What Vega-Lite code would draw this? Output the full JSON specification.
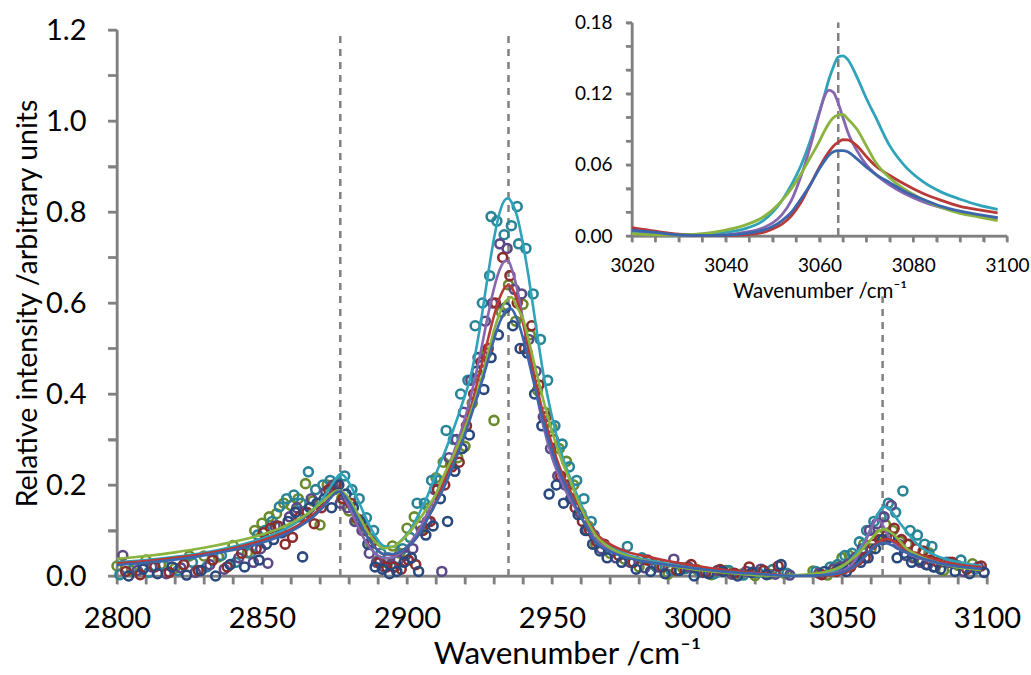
{
"$schema": "https://vega.github.io/schema/vega-lite/v6.json",
"width": 870, "height": 546,
"autosize": {"type": "none"},
"padding": {"left": 117, "top": 30, "right": 44, "bottom": 99},
"background": "white",
"config": {"font": "Lato", "view": {"stroke": null},
  "axis": {"grid": false, "domainColor": "#808080", "domainWidth": 2, "tickColor": "#808080", "tickWidth": 2, "labelColor": "#000000", "titleColor": "#000000", "titleFontWeight": "normal", "labelOverlap": false, "labelFlush": false}},
"datasets": {
"vlines": [{"x":2877,"y":0,"y2":1.2},{"x":2935,"y":0,"y2":1.2},{"x":3064,"y":0,"y2":0.615}],
"ivline": [{"x":3064,"y":0,"y2":0.18}],
"mainframe": [{"x":2800,"x2":3100,"y":0,"y2":0},{"x":2800,"x2":2800,"y":0,"y2":1.2}],
"insetframe": [{"x":3020,"x2":3100,"y":0,"y2":0},{"x":3020,"x2":3020,"y":0,"y2":0.18}],
"xt": [{"v":2800},{"v":2810},{"v":2820},{"v":2830},{"v":2840},{"v":2850},{"v":2860},{"v":2870},{"v":2880},{"v":2890},{"v":2900},{"v":2910},{"v":2920},{"v":2930},{"v":2940},{"v":2950},{"v":2960},{"v":2970},{"v":2980},{"v":2990},{"v":3000},{"v":3010},{"v":3020},{"v":3030},{"v":3040},{"v":3050},{"v":3060},{"v":3070},{"v":3080},{"v":3090},{"v":3100}],
"yt": [{"v":0},{"v":0.1},{"v":0.2},{"v":0.3},{"v":0.4},{"v":0.5},{"v":0.6},{"v":0.7},{"v":0.8},{"v":0.9},{"v":1.0},{"v":1.1},{"v":1.2}],
"ixt": [{"v":3020},{"v":3025},{"v":3030},{"v":3035},{"v":3040},{"v":3045},{"v":3050},{"v":3055},{"v":3060},{"v":3065},{"v":3070},{"v":3075},{"v":3080},{"v":3085},{"v":3090},{"v":3095},{"v":3100}],
"iyt": [{"v":0},{"v":0.02},{"v":0.04},{"v":0.06},{"v":0.08},{"v":0.1},{"v":0.12},{"v":0.14},{"v":0.16},{"v":0.18}],
"fits": [
{"s":"T","x":2800,"y":0.030},{"s":"T","x":2810,"y":0.035},{"s":"T","x":2820,"y":0.042},{"s":"T","x":2830,"y":0.051},{"s":"T","x":2840,"y":0.064},{"s":"T","x":2850,"y":0.082},{"s":"T","x":2855,"y":0.094},{"s":"T","x":2860,"y":0.110},{"s":"T","x":2865,"y":0.132},{"s":"T","x":2868,"y":0.149},{"s":"T","x":2871,"y":0.170},{"s":"T","x":2874,"y":0.200},{"s":"T","x":2876,"y":0.218},{"s":"T","x":2877,"y":0.224},{"s":"T","x":2878,"y":0.222},{"s":"T","x":2880,"y":0.205},{"s":"T","x":2883,"y":0.168},{"s":"T","x":2886,"y":0.125},{"s":"T","x":2889,"y":0.088},{"s":"T","x":2892,"y":0.066},{"s":"T","x":2895,"y":0.064},{"s":"T","x":2898,"y":0.078},{"s":"T","x":2901,"y":0.100},{"s":"T","x":2904,"y":0.135},{"s":"T","x":2907,"y":0.175},{"s":"T","x":2910,"y":0.225},{"s":"T","x":2913,"y":0.272},{"s":"T","x":2916,"y":0.322},{"s":"T","x":2919,"y":0.378},{"s":"T","x":2922,"y":0.440},{"s":"T","x":2925,"y":0.540},{"s":"T","x":2928,"y":0.665},{"s":"T","x":2930,"y":0.742},{"s":"T","x":2932,"y":0.800},{"s":"T","x":2934,"y":0.828},{"s":"T","x":2935,"y":0.830},{"s":"T","x":2936,"y":0.822},{"s":"T","x":2938,"y":0.790},{"s":"T","x":2940,"y":0.730},{"s":"T","x":2942,"y":0.655},{"s":"T","x":2944,"y":0.570},{"s":"T","x":2947,"y":0.445},{"s":"T","x":2950,"y":0.350},{"s":"T","x":2953,"y":0.275},{"s":"T","x":2956,"y":0.220},{"s":"T","x":2960,"y":0.158},{"s":"T","x":2965,"y":0.095},{"s":"T","x":2970,"y":0.066},{"s":"T","x":2976,"y":0.047},{"s":"T","x":2983,"y":0.035},{"s":"T","x":2990,"y":0.027},{"s":"T","x":3000,"y":0.017},{"s":"T","x":3010,"y":0.009},{"s":"T","x":3020,"y":0.004},{"s":"T","x":3025,"y":0.002},{"s":"T","x":3030,"y":0.001},{"s":"T","x":3035,"y":0.001},{"s":"T","x":3040,"y":0.003},{"s":"T","x":3044,"y":0.006},{"s":"T","x":3048,"y":0.013},{"s":"T","x":3050,"y":0.020},{"s":"T","x":3052,"y":0.030},{"s":"T","x":3054,"y":0.043},{"s":"T","x":3056,"y":0.059},{"s":"T","x":3058,"y":0.080},{"s":"T","x":3060,"y":0.105},{"s":"T","x":3061,"y":0.118},{"s":"T","x":3062,"y":0.132},{"s":"T","x":3063,"y":0.143},{"s":"T","x":3064,"y":0.151},{"s":"T","x":3065,"y":0.152},{"s":"T","x":3066,"y":0.149},{"s":"T","x":3068,"y":0.134},{"s":"T","x":3070,"y":0.116},{"s":"T","x":3072,"y":0.100},{"s":"T","x":3075,"y":0.076},{"s":"T","x":3078,"y":0.060},{"s":"T","x":3082,"y":0.046},{"s":"T","x":3086,"y":0.037},{"s":"T","x":3090,"y":0.031},{"s":"T","x":3094,"y":0.026},{"s":"T","x":3098,"y":0.0225},
{"s":"P","x":2800,"y":0.026},{"s":"P","x":2810,"y":0.031},{"s":"P","x":2820,"y":0.038},{"s":"P","x":2830,"y":0.047},{"s":"P","x":2840,"y":0.059},{"s":"P","x":2850,"y":0.076},{"s":"P","x":2855,"y":0.087},{"s":"P","x":2860,"y":0.101},{"s":"P","x":2865,"y":0.120},{"s":"P","x":2868,"y":0.135},{"s":"P","x":2871,"y":0.154},{"s":"P","x":2874,"y":0.177},{"s":"P","x":2876,"y":0.188},{"s":"P","x":2877,"y":0.187},{"s":"P","x":2878,"y":0.178},{"s":"P","x":2880,"y":0.152},{"s":"P","x":2883,"y":0.110},{"s":"P","x":2886,"y":0.073},{"s":"P","x":2889,"y":0.050},{"s":"P","x":2892,"y":0.039},{"s":"P","x":2895,"y":0.041},{"s":"P","x":2898,"y":0.052},{"s":"P","x":2901,"y":0.072},{"s":"P","x":2904,"y":0.100},{"s":"P","x":2907,"y":0.138},{"s":"P","x":2910,"y":0.180},{"s":"P","x":2913,"y":0.222},{"s":"P","x":2916,"y":0.270},{"s":"P","x":2919,"y":0.325},{"s":"P","x":2922,"y":0.395},{"s":"P","x":2925,"y":0.480},{"s":"P","x":2928,"y":0.575},{"s":"P","x":2930,"y":0.632},{"s":"P","x":2932,"y":0.674},{"s":"P","x":2934,"y":0.693},{"s":"P","x":2935,"y":0.692},{"s":"P","x":2936,"y":0.677},{"s":"P","x":2938,"y":0.630},{"s":"P","x":2940,"y":0.564},{"s":"P","x":2942,"y":0.492},{"s":"P","x":2944,"y":0.423},{"s":"P","x":2947,"y":0.330},{"s":"P","x":2950,"y":0.261},{"s":"P","x":2953,"y":0.211},{"s":"P","x":2956,"y":0.171},{"s":"P","x":2960,"y":0.130},{"s":"P","x":2965,"y":0.080},{"s":"P","x":2970,"y":0.057},{"s":"P","x":2976,"y":0.042},{"s":"P","x":2983,"y":0.032},{"s":"P","x":2990,"y":0.024},{"s":"P","x":3000,"y":0.016},{"s":"P","x":3010,"y":0.009},{"s":"P","x":3020,"y":0.005},{"s":"P","x":3025,"y":0.003},{"s":"P","x":3030,"y":0.001},{"s":"P","x":3035,"y":0.0005},{"s":"P","x":3040,"y":0.001},{"s":"P","x":3044,"y":0.003},{"s":"P","x":3048,"y":0.007},{"s":"P","x":3050,"y":0.011},{"s":"P","x":3052,"y":0.018},{"s":"P","x":3054,"y":0.030},{"s":"P","x":3056,"y":0.050},{"s":"P","x":3058,"y":0.075},{"s":"P","x":3060,"y":0.104},{"s":"P","x":3061,"y":0.117},{"s":"P","x":3062,"y":0.123},{"s":"P","x":3063,"y":0.121},{"s":"P","x":3064,"y":0.112},{"s":"P","x":3065,"y":0.100},{"s":"P","x":3066,"y":0.088},{"s":"P","x":3068,"y":0.072},{"s":"P","x":3070,"y":0.060},{"s":"P","x":3072,"y":0.052},{"s":"P","x":3075,"y":0.043},{"s":"P","x":3078,"y":0.036},{"s":"P","x":3082,"y":0.029},{"s":"P","x":3086,"y":0.024},{"s":"P","x":3090,"y":0.020},{"s":"P","x":3094,"y":0.017},{"s":"P","x":3098,"y":0.015},
{"s":"R","x":2800,"y":0.028},{"s":"R","x":2810,"y":0.033},{"s":"R","x":2820,"y":0.040},{"s":"R","x":2830,"y":0.049},{"s":"R","x":2840,"y":0.061},{"s":"R","x":2850,"y":0.078},{"s":"R","x":2855,"y":0.089},{"s":"R","x":2860,"y":0.103},{"s":"R","x":2865,"y":0.122},{"s":"R","x":2868,"y":0.137},{"s":"R","x":2871,"y":0.155},{"s":"R","x":2874,"y":0.176},{"s":"R","x":2876,"y":0.186},{"s":"R","x":2877,"y":0.187},{"s":"R","x":2878,"y":0.182},{"s":"R","x":2880,"y":0.164},{"s":"R","x":2883,"y":0.127},{"s":"R","x":2886,"y":0.090},{"s":"R","x":2889,"y":0.063},{"s":"R","x":2892,"y":0.048},{"s":"R","x":2895,"y":0.047},{"s":"R","x":2898,"y":0.055},{"s":"R","x":2901,"y":0.068},{"s":"R","x":2904,"y":0.090},{"s":"R","x":2907,"y":0.125},{"s":"R","x":2910,"y":0.165},{"s":"R","x":2913,"y":0.210},{"s":"R","x":2916,"y":0.258},{"s":"R","x":2919,"y":0.310},{"s":"R","x":2922,"y":0.370},{"s":"R","x":2925,"y":0.445},{"s":"R","x":2928,"y":0.522},{"s":"R","x":2930,"y":0.572},{"s":"R","x":2932,"y":0.612},{"s":"R","x":2934,"y":0.636},{"s":"R","x":2935,"y":0.639},{"s":"R","x":2936,"y":0.635},{"s":"R","x":2938,"y":0.605},{"s":"R","x":2940,"y":0.556},{"s":"R","x":2942,"y":0.498},{"s":"R","x":2944,"y":0.438},{"s":"R","x":2947,"y":0.356},{"s":"R","x":2950,"y":0.289},{"s":"R","x":2953,"y":0.233},{"s":"R","x":2956,"y":0.190},{"s":"R","x":2960,"y":0.148},{"s":"R","x":2965,"y":0.095},{"s":"R","x":2970,"y":0.070},{"s":"R","x":2976,"y":0.053},{"s":"R","x":2983,"y":0.042},{"s":"R","x":2990,"y":0.033},{"s":"R","x":3000,"y":0.022},{"s":"R","x":3010,"y":0.013},{"s":"R","x":3020,"y":0.007},{"s":"R","x":3025,"y":0.004},{"s":"R","x":3030,"y":0.0015},{"s":"R","x":3035,"y":0.0005},{"s":"R","x":3040,"y":0.0005},{"s":"R","x":3044,"y":0.001},{"s":"R","x":3048,"y":0.003},{"s":"R","x":3050,"y":0.006},{"s":"R","x":3052,"y":0.010},{"s":"R","x":3054,"y":0.017},{"s":"R","x":3056,"y":0.028},{"s":"R","x":3058,"y":0.043},{"s":"R","x":3060,"y":0.058},{"s":"R","x":3061,"y":0.065},{"s":"R","x":3062,"y":0.071},{"s":"R","x":3063,"y":0.076},{"s":"R","x":3064,"y":0.079},{"s":"R","x":3065,"y":0.0812},{"s":"R","x":3066,"y":0.081},{"s":"R","x":3068,"y":0.076},{"s":"R","x":3070,"y":0.067},{"s":"R","x":3072,"y":0.059},{"s":"R","x":3075,"y":0.051},{"s":"R","x":3078,"y":0.044},{"s":"R","x":3082,"y":0.036},{"s":"R","x":3086,"y":0.030},{"s":"R","x":3090,"y":0.025},{"s":"R","x":3094,"y":0.022},{"s":"R","x":3098,"y":0.0195},
{"s":"G","x":2800,"y":0.038},{"s":"G","x":2810,"y":0.044},{"s":"G","x":2820,"y":0.052},{"s":"G","x":2830,"y":0.062},{"s":"G","x":2840,"y":0.075},{"s":"G","x":2850,"y":0.091},{"s":"G","x":2855,"y":0.102},{"s":"G","x":2860,"y":0.116},{"s":"G","x":2865,"y":0.134},{"s":"G","x":2868,"y":0.148},{"s":"G","x":2871,"y":0.164},{"s":"G","x":2874,"y":0.181},{"s":"G","x":2876,"y":0.188},{"s":"G","x":2877,"y":0.188},{"s":"G","x":2878,"y":0.184},{"s":"G","x":2880,"y":0.170},{"s":"G","x":2883,"y":0.137},{"s":"G","x":2886,"y":0.102},{"s":"G","x":2889,"y":0.076},{"s":"G","x":2892,"y":0.061},{"s":"G","x":2895,"y":0.064},{"s":"G","x":2898,"y":0.077},{"s":"G","x":2901,"y":0.097},{"s":"G","x":2904,"y":0.122},{"s":"G","x":2907,"y":0.150},{"s":"G","x":2910,"y":0.180},{"s":"G","x":2913,"y":0.225},{"s":"G","x":2916,"y":0.265},{"s":"G","x":2919,"y":0.310},{"s":"G","x":2922,"y":0.360},{"s":"G","x":2925,"y":0.420},{"s":"G","x":2928,"y":0.490},{"s":"G","x":2930,"y":0.540},{"s":"G","x":2932,"y":0.578},{"s":"G","x":2934,"y":0.604},{"s":"G","x":2935,"y":0.610},{"s":"G","x":2936,"y":0.613},{"s":"G","x":2938,"y":0.590},{"s":"G","x":2940,"y":0.565},{"s":"G","x":2942,"y":0.517},{"s":"G","x":2944,"y":0.464},{"s":"G","x":2947,"y":0.387},{"s":"G","x":2950,"y":0.318},{"s":"G","x":2953,"y":0.260},{"s":"G","x":2956,"y":0.213},{"s":"G","x":2960,"y":0.150},{"s":"G","x":2965,"y":0.090},{"s":"G","x":2970,"y":0.062},{"s":"G","x":2976,"y":0.044},{"s":"G","x":2983,"y":0.032},{"s":"G","x":2990,"y":0.023},{"s":"G","x":3000,"y":0.014},{"s":"G","x":3010,"y":0.007},{"s":"G","x":3020,"y":0.002},{"s":"G","x":3025,"y":0.001},{"s":"G","x":3030,"y":0.001},{"s":"G","x":3035,"y":0.002},{"s":"G","x":3040,"y":0.005},{"s":"G","x":3044,"y":0.009},{"s":"G","x":3048,"y":0.016},{"s":"G","x":3050,"y":0.022},{"s":"G","x":3052,"y":0.030},{"s":"G","x":3054,"y":0.040},{"s":"G","x":3056,"y":0.052},{"s":"G","x":3058,"y":0.066},{"s":"G","x":3060,"y":0.080},{"s":"G","x":3061,"y":0.088},{"s":"G","x":3062,"y":0.095},{"s":"G","x":3063,"y":0.100},{"s":"G","x":3064,"y":0.102},{"s":"G","x":3065,"y":0.1025},{"s":"G","x":3066,"y":0.099},{"s":"G","x":3068,"y":0.090},{"s":"G","x":3070,"y":0.076},{"s":"G","x":3072,"y":0.062},{"s":"G","x":3075,"y":0.049},{"s":"G","x":3078,"y":0.040},{"s":"G","x":3082,"y":0.031},{"s":"G","x":3086,"y":0.024},{"s":"G","x":3090,"y":0.019},{"s":"G","x":3094,"y":0.016},{"s":"G","x":3098,"y":0.013},
{"s":"B","x":2800,"y":0.024},{"s":"B","x":2810,"y":0.029},{"s":"B","x":2820,"y":0.036},{"s":"B","x":2830,"y":0.045},{"s":"B","x":2840,"y":0.057},{"s":"B","x":2850,"y":0.073},{"s":"B","x":2855,"y":0.084},{"s":"B","x":2860,"y":0.098},{"s":"B","x":2865,"y":0.117},{"s":"B","x":2868,"y":0.132},{"s":"B","x":2871,"y":0.151},{"s":"B","x":2874,"y":0.174},{"s":"B","x":2876,"y":0.185},{"s":"B","x":2877,"y":0.186},{"s":"B","x":2878,"y":0.180},{"s":"B","x":2880,"y":0.162},{"s":"B","x":2883,"y":0.126},{"s":"B","x":2886,"y":0.089},{"s":"B","x":2889,"y":0.062},{"s":"B","x":2892,"y":0.048},{"s":"B","x":2895,"y":0.048},{"s":"B","x":2898,"y":0.055},{"s":"B","x":2901,"y":0.068},{"s":"B","x":2904,"y":0.090},{"s":"B","x":2907,"y":0.125},{"s":"B","x":2910,"y":0.160},{"s":"B","x":2913,"y":0.198},{"s":"B","x":2916,"y":0.245},{"s":"B","x":2919,"y":0.293},{"s":"B","x":2922,"y":0.350},{"s":"B","x":2925,"y":0.410},{"s":"B","x":2928,"y":0.475},{"s":"B","x":2930,"y":0.520},{"s":"B","x":2932,"y":0.558},{"s":"B","x":2934,"y":0.582},{"s":"B","x":2935,"y":0.588},{"s":"B","x":2936,"y":0.587},{"s":"B","x":2938,"y":0.564},{"s":"B","x":2940,"y":0.523},{"s":"B","x":2942,"y":0.472},{"s":"B","x":2944,"y":0.417},{"s":"B","x":2947,"y":0.340},{"s":"B","x":2950,"y":0.275},{"s":"B","x":2953,"y":0.223},{"s":"B","x":2956,"y":0.182},{"s":"B","x":2960,"y":0.130},{"s":"B","x":2965,"y":0.075},{"s":"B","x":2970,"y":0.054},{"s":"B","x":2976,"y":0.040},{"s":"B","x":2983,"y":0.031},{"s":"B","x":2990,"y":0.024},{"s":"B","x":3000,"y":0.016},{"s":"B","x":3010,"y":0.009},{"s":"B","x":3020,"y":0.005},{"s":"B","x":3025,"y":0.003},{"s":"B","x":3030,"y":0.001},{"s":"B","x":3035,"y":0.0005},{"s":"B","x":3040,"y":0.0008},{"s":"B","x":3044,"y":0.002},{"s":"B","x":3048,"y":0.005},{"s":"B","x":3050,"y":0.008},{"s":"B","x":3052,"y":0.013},{"s":"B","x":3054,"y":0.020},{"s":"B","x":3056,"y":0.031},{"s":"B","x":3058,"y":0.043},{"s":"B","x":3060,"y":0.057},{"s":"B","x":3061,"y":0.063},{"s":"B","x":3062,"y":0.068},{"s":"B","x":3063,"y":0.071},{"s":"B","x":3064,"y":0.072},{"s":"B","x":3065,"y":0.072},{"s":"B","x":3066,"y":0.071},{"s":"B","x":3068,"y":0.065},{"s":"B","x":3070,"y":0.058},{"s":"B","x":3072,"y":0.052},{"s":"B","x":3075,"y":0.045},{"s":"B","x":3078,"y":0.038},{"s":"B","x":3082,"y":0.031},{"s":"B","x":3086,"y":0.025},{"s":"B","x":3090,"y":0.021},{"s":"B","x":3094,"y":0.018},{"s":"B","x":3098,"y":0.0155}
],
"pts": [
{"s":"G","x":2800,"y":0.022},{"s":"G","x":2805,"y":0.012},{"s":"G","x":2810,"y":0.035},{"s":"G","x":2815,"y":0.025},{"s":"G","x":2820,"y":0.017},{"s":"G","x":2825,"y":0.044},{"s":"G","x":2830,"y":0.044},{"s":"G","x":2835,"y":0.042},{"s":"G","x":2840,"y":0.067},{"s":"G","x":2845,"y":0.051},{"s":"G","x":2850,"y":0.116},{"s":"G","x":2855,"y":0.137},{"s":"G","x":2860,"y":0.155},{"s":"G","x":2865,"y":0.203},{"s":"G","x":2870,"y":0.112},{"s":"G","x":2875,"y":0.19},{"s":"G","x":2880,"y":0.143},{"s":"G","x":2885,"y":0.108},{"s":"G","x":2890,"y":0.034},{"s":"G","x":2895,"y":0.066},{"s":"G","x":2900,"y":0.105},{"s":"G","x":2905,"y":0.10},{"s":"G","x":2910,"y":0.216},{"s":"G","x":2915,"y":0.244},{"s":"G","x":2920,"y":0.285},{"s":"G","x":2925,"y":0.44},{"s":"G","x":2930,"y":0.342},{"s":"G","x":2935,"y":0.64},{"s":"G","x":2940,"y":0.597},{"s":"G","x":2945,"y":0.408},{"s":"G","x":2950,"y":0.326},{"s":"G","x":2955,"y":0.252},{"s":"G","x":2960,"y":0.138},{"s":"G","x":2965,"y":0.07},{"s":"G","x":2970,"y":0.05},{"s":"G","x":2975,"y":0.037},{"s":"G","x":2980,"y":0.02},{"s":"G","x":2985,"y":0.025},{"s":"G","x":2990,"y":0.004},{"s":"G","x":2995,"y":0.018},{"s":"G","x":3000,"y":0.014},{"s":"G","x":3005,"y":0.003},{"s":"G","x":3010,"y":0.012},{"s":"G","x":3015,"y":0.004},{"s":"G","x":3020,"y":0.001},{"s":"G","x":3025,"y":0.004},{"s":"G","x":3030,"y":0.006},{"s":"G","x":3040,"y":0.011},{"s":"G","x":3045,"y":0.002},{"s":"G","x":3050,"y":0.04},{"s":"G","x":3055,"y":0.042},{"s":"G","x":3060,"y":0.06},{"s":"G","x":3065,"y":0.113},{"s":"G","x":3070,"y":0.076},{"s":"G","x":3075,"y":0.041},{"s":"G","x":3080,"y":0.051},{"s":"G","x":3085,"y":0.012},{"s":"G","x":3090,"y":0.023},{"s":"G","x":3095,"y":0.027},
{"s":"G","x":2847.5,"y":0.10},{"s":"G","x":2852.5,"y":0.13},{"s":"G","x":2857.5,"y":0.16},{"s":"G","x":2862.5,"y":0.17},{"s":"G","x":2867.5,"y":0.165},{"s":"G","x":2872.5,"y":0.20},{"s":"G","x":2877.5,"y":0.17},{"s":"G","x":2882.5,"y":0.12},{"s":"G","x":2887.5,"y":0.07},{"s":"G","x":2892.5,"y":0.03},{"s":"G","x":2897.5,"y":0.05},{"s":"G","x":2902.5,"y":0.13},{"s":"G","x":2907.5,"y":0.15},{"s":"G","x":2912.5,"y":0.25},{"s":"G","x":2917.5,"y":0.26},{"s":"G","x":2922.5,"y":0.38},{"s":"G","x":2927.5,"y":0.49},{"s":"G","x":2932.5,"y":0.58},{"s":"G","x":2937.5,"y":0.56},{"s":"G","x":2942.5,"y":0.53},{"s":"G","x":2947.5,"y":0.36},{"s":"G","x":2952.5,"y":0.28},{"s":"G","x":2957.5,"y":0.20},{"s":"G","x":2962.5,"y":0.11},{"s":"G","x":3047.5,"y":0.02},{"s":"G","x":3052.5,"y":0.045},{"s":"G","x":3057.5,"y":0.07},{"s":"G","x":3062.5,"y":0.09},{"s":"G","x":3067.5,"y":0.10},{"s":"G","x":3072.5,"y":0.07},{"s":"G","x":3077.5,"y":0.035},
{"s":"T","x":2801,"y":0.003},{"s":"T","x":2806,"y":0.02},{"s":"T","x":2811,"y":0.008},{"s":"T","x":2816,"y":0.025},{"s":"T","x":2821,"y":0.012},{"s":"T","x":2826,"y":0.03},{"s":"T","x":2831,"y":0.02},{"s":"T","x":2836,"y":0.045},{"s":"T","x":2841,"y":0.03},{"s":"T","x":2846,"y":0.05},{"s":"T","x":2851,"y":0.10},{"s":"T","x":2856,"y":0.152},{"s":"T","x":2861,"y":0.178},{"s":"T","x":2866,"y":0.229},{"s":"T","x":2871,"y":0.20},{"s":"T","x":2876,"y":0.205},{"s":"T","x":2881,"y":0.19},{"s":"T","x":2886,"y":0.128},{"s":"T","x":2891,"y":0.05},{"s":"T","x":2896,"y":0.02},{"s":"T","x":2901,"y":0.085},{"s":"T","x":2906,"y":0.16},{"s":"T","x":2911,"y":0.21},{"s":"T","x":2916,"y":0.30},{"s":"T","x":2921,"y":0.43},{"s":"T","x":2926,"y":0.60},{"s":"T","x":2929,"y":0.79},{"s":"T","x":2931,"y":0.78},{"s":"T","x":2936,"y":0.77},{"s":"T","x":2938,"y":0.812},{"s":"T","x":2941,"y":0.72},{"s":"T","x":2946,"y":0.52},{"s":"T","x":2951,"y":0.33},{"s":"T","x":2956,"y":0.24},{"s":"T","x":2961,"y":0.17},{"s":"T","x":2966,"y":0.075},{"s":"T","x":2971,"y":0.055},{"s":"T","x":2976,"y":0.065},{"s":"T","x":2981,"y":0.04},{"s":"T","x":2986,"y":0.02},{"s":"T","x":2991,"y":0.012},{"s":"T","x":2996,"y":0.016},{"s":"T","x":3001,"y":0.01},{"s":"T","x":3006,"y":0.005},{"s":"T","x":3011,"y":0.012},{"s":"T","x":3016,"y":0.002},{"s":"T","x":3021,"y":0.008},{"s":"T","x":3026,"y":0.014},{"s":"T","x":3031,"y":0.006},{"s":"T","x":3041,"y":0.01},{"s":"T","x":3046,"y":0.02},{"s":"T","x":3051,"y":0.045},{"s":"T","x":3056,"y":0.075},{"s":"T","x":3061,"y":0.12},{"s":"T","x":3066,"y":0.16},{"s":"T","x":3071,"y":0.187},{"s":"T","x":3076,"y":0.09},{"s":"T","x":3081,"y":0.065},{"s":"T","x":3086,"y":0.03},{"s":"T","x":3091,"y":0.035},{"s":"T","x":3096,"y":0.015},
{"s":"T","x":2848.5,"y":0.09},{"s":"T","x":2853.5,"y":0.12},{"s":"T","x":2858.5,"y":0.17},{"s":"T","x":2863.5,"y":0.16},{"s":"T","x":2868.5,"y":0.19},{"s":"T","x":2873.5,"y":0.21},{"s":"T","x":2878.5,"y":0.22},{"s":"T","x":2883.5,"y":0.17},{"s":"T","x":2888.5,"y":0.10},{"s":"T","x":2893.5,"y":0.04},{"s":"T","x":2898.5,"y":0.06},{"s":"T","x":2903.5,"y":0.16},{"s":"T","x":2908.5,"y":0.21},{"s":"T","x":2913.5,"y":0.32},{"s":"T","x":2918.5,"y":0.40},{"s":"T","x":2923.5,"y":0.55},{"s":"T","x":2928.5,"y":0.66},{"s":"T","x":2933.5,"y":0.75},{"s":"T","x":2938.5,"y":0.73},{"s":"T","x":2943.5,"y":0.62},{"s":"T","x":2948.5,"y":0.43},{"s":"T","x":2953.5,"y":0.29},{"s":"T","x":2958.5,"y":0.21},{"s":"T","x":2963.5,"y":0.12},{"s":"T","x":3048.5,"y":0.025},{"s":"T","x":3053.5,"y":0.05},{"s":"T","x":3058.5,"y":0.10},{"s":"T","x":3063.5,"y":0.13},{"s":"T","x":3068.5,"y":0.14},{"s":"T","x":3073.5,"y":0.10},{"s":"T","x":3078.5,"y":0.07},
{"s":"P","x":2802,"y":0.045},{"s":"P","x":2807,"y":0.012},{"s":"P","x":2812,"y":0.02},{"s":"P","x":2817,"y":0.005},{"s":"P","x":2822,"y":0.018},{"s":"P","x":2827,"y":0.008},{"s":"P","x":2832,"y":0.025},{"s":"P","x":2837,"y":0.015},{"s":"P","x":2842,"y":0.04},{"s":"P","x":2847,"y":0.03},{"s":"P","x":2852,"y":0.028},{"s":"P","x":2857,"y":0.095},{"s":"P","x":2862,"y":0.15},{"s":"P","x":2867,"y":0.17},{"s":"P","x":2872,"y":0.185},{"s":"P","x":2877,"y":0.16},{"s":"P","x":2882,"y":0.12},{"s":"P","x":2887,"y":0.05},{"s":"P","x":2892,"y":0.02},{"s":"P","x":2897,"y":0.035},{"s":"P","x":2902,"y":0.06},{"s":"P","x":2907,"y":0.12},{"s":"P","x":2912,"y":0.01},{"s":"P","x":2917,"y":0.30},{"s":"P","x":2922,"y":0.43},{"s":"P","x":2927,"y":0.56},{"s":"P","x":2932,"y":0.73},{"s":"P","x":2937,"y":0.63},{"s":"P","x":2942,"y":0.52},{"s":"P","x":2947,"y":0.35},{"s":"P","x":2952,"y":0.22},{"s":"P","x":2957,"y":0.17},{"s":"P","x":2962,"y":0.10},{"s":"P","x":2967,"y":0.06},{"s":"P","x":2972,"y":0.04},{"s":"P","x":2977,"y":0.03},{"s":"P","x":2982,"y":0.018},{"s":"P","x":2987,"y":0.02},{"s":"P","x":2992,"y":0.037},{"s":"P","x":2997,"y":0.02},{"s":"P","x":3002,"y":0.008},{"s":"P","x":3007,"y":0.012},{"s":"P","x":3012,"y":0.004},{"s":"P","x":3017,"y":0.01},{"s":"P","x":3022,"y":0.015},{"s":"P","x":3027,"y":0.004},{"s":"P","x":3032,"y":0.002},{"s":"P","x":3042,"y":0.006},{"s":"P","x":3047,"y":0.015},{"s":"P","x":3052,"y":0.025},{"s":"P","x":3057,"y":0.06},{"s":"P","x":3062,"y":0.115},{"s":"P","x":3067,"y":0.155},{"s":"P","x":3072,"y":0.045},{"s":"P","x":3077,"y":0.03},{"s":"P","x":3082,"y":0.02},{"s":"P","x":3087,"y":0.03},{"s":"P","x":3092,"y":0.01},{"s":"P","x":3097,"y":0.02},
{"s":"P","x":2849.5,"y":0.06},{"s":"P","x":2854.5,"y":0.11},{"s":"P","x":2859.5,"y":0.13},{"s":"P","x":2864.5,"y":0.14},{"s":"P","x":2869.5,"y":0.16},{"s":"P","x":2874.5,"y":0.20},{"s":"P","x":2879.5,"y":0.15},{"s":"P","x":2884.5,"y":0.10},{"s":"P","x":2889.5,"y":0.03},{"s":"P","x":2894.5,"y":0.025},{"s":"P","x":2899.5,"y":0.045},{"s":"P","x":2904.5,"y":0.11},{"s":"P","x":2909.5,"y":0.19},{"s":"P","x":2914.5,"y":0.26},{"s":"P","x":2919.5,"y":0.36},{"s":"P","x":2924.5,"y":0.48},{"s":"P","x":2929.5,"y":0.60},{"s":"P","x":2934.5,"y":0.72},{"s":"P","x":2939.5,"y":0.62},{"s":"P","x":2944.5,"y":0.45},{"s":"P","x":2949.5,"y":0.28},{"s":"P","x":2954.5,"y":0.20},{"s":"P","x":2959.5,"y":0.14},{"s":"P","x":2964.5,"y":0.09},{"s":"P","x":3049.5,"y":0.02},{"s":"P","x":3054.5,"y":0.04},{"s":"P","x":3059.5,"y":0.10},{"s":"P","x":3064.5,"y":0.13},{"s":"P","x":3069.5,"y":0.07},{"s":"P","x":3074.5,"y":0.04},{"s":"P","x":3079.5,"y":0.025},
{"s":"R","x":2803,"y":0.01},{"s":"R","x":2808,"y":0.003},{"s":"R","x":2813,"y":0.02},{"s":"R","x":2818,"y":0.008},{"s":"R","x":2823,"y":0.025},{"s":"R","x":2828,"y":0.012},{"s":"R","x":2833,"y":0.035},{"s":"R","x":2838,"y":0.02},{"s":"R","x":2843,"y":0.05},{"s":"R","x":2848,"y":0.06},{"s":"R","x":2853,"y":0.105},{"s":"R","x":2858,"y":0.07},{"s":"R","x":2863,"y":0.13},{"s":"R","x":2868,"y":0.115},{"s":"R","x":2873,"y":0.19},{"s":"R","x":2878,"y":0.17},{"s":"R","x":2883,"y":0.125},{"s":"R","x":2888,"y":0.075},{"s":"R","x":2893,"y":0.02},{"s":"R","x":2898,"y":0.015},{"s":"R","x":2903,"y":0.025},{"s":"R","x":2908,"y":0.12},{"s":"R","x":2913,"y":0.20},{"s":"R","x":2918,"y":0.25},{"s":"R","x":2923,"y":0.40},{"s":"R","x":2928,"y":0.50},{"s":"R","x":2933,"y":0.70},{"s":"R","x":2938,"y":0.60},{"s":"R","x":2943,"y":0.55},{"s":"R","x":2948,"y":0.35},{"s":"R","x":2953,"y":0.22},{"s":"R","x":2958,"y":0.15},{"s":"R","x":2963,"y":0.10},{"s":"R","x":2968,"y":0.07},{"s":"R","x":2973,"y":0.045},{"s":"R","x":2978,"y":0.03},{"s":"R","x":2983,"y":0.035},{"s":"R","x":2988,"y":0.02},{"s":"R","x":2993,"y":0.012},{"s":"R","x":2998,"y":0.025},{"s":"R","x":3003,"y":0.008},{"s":"R","x":3008,"y":0.014},{"s":"R","x":3013,"y":0.006},{"s":"R","x":3018,"y":0.02},{"s":"R","x":3023,"y":0.012},{"s":"R","x":3028,"y":0.022},{"s":"R","x":3043,"y":0.003},{"s":"R","x":3048,"y":0.01},{"s":"R","x":3053,"y":0.02},{"s":"R","x":3058,"y":0.04},{"s":"R","x":3063,"y":0.08},{"s":"R","x":3068,"y":0.105},{"s":"R","x":3073,"y":0.07},{"s":"R","x":3078,"y":0.055},{"s":"R","x":3083,"y":0.03},{"s":"R","x":3088,"y":0.03},{"s":"R","x":3093,"y":0.015},{"s":"R","x":3098,"y":0.022},
{"s":"R","x":2850.5,"y":0.095},{"s":"R","x":2855.5,"y":0.11},{"s":"R","x":2860.5,"y":0.085},{"s":"R","x":2865.5,"y":0.14},{"s":"R","x":2870.5,"y":0.15},{"s":"R","x":2875.5,"y":0.20},{"s":"R","x":2880.5,"y":0.16},{"s":"R","x":2885.5,"y":0.10},{"s":"R","x":2890.5,"y":0.03},{"s":"R","x":2895.5,"y":0.02},{"s":"R","x":2900.5,"y":0.035},{"s":"R","x":2905.5,"y":0.10},{"s":"R","x":2910.5,"y":0.19},{"s":"R","x":2915.5,"y":0.24},{"s":"R","x":2920.5,"y":0.33},{"s":"R","x":2925.5,"y":0.47},{"s":"R","x":2930.5,"y":0.60},{"s":"R","x":2935.5,"y":0.66},{"s":"R","x":2940.5,"y":0.50},{"s":"R","x":2945.5,"y":0.42},{"s":"R","x":2950.5,"y":0.30},{"s":"R","x":2955.5,"y":0.20},{"s":"R","x":2960.5,"y":0.12},{"s":"R","x":2965.5,"y":0.075},{"s":"R","x":3050.5,"y":0.015},{"s":"R","x":3055.5,"y":0.035},{"s":"R","x":3060.5,"y":0.07},{"s":"R","x":3065.5,"y":0.09},{"s":"R","x":3070.5,"y":0.08},{"s":"R","x":3075.5,"y":0.06},{"s":"R","x":3080.5,"y":0.035},
{"s":"B","x":2804,"y":0.0},{"s":"B","x":2809,"y":0.015},{"s":"B","x":2814,"y":0.005},{"s":"B","x":2819,"y":0.02},{"s":"B","x":2824,"y":0.002},{"s":"B","x":2829,"y":0.012},{"s":"B","x":2834,"y":0.0},{"s":"B","x":2839,"y":0.025},{"s":"B","x":2844,"y":0.02},{"s":"B","x":2849,"y":0.035},{"s":"B","x":2854,"y":0.08},{"s":"B","x":2859,"y":0.12},{"s":"B","x":2864,"y":0.042},{"s":"B","x":2869,"y":0.16},{"s":"B","x":2874,"y":0.15},{"s":"B","x":2879,"y":0.18},{"s":"B","x":2884,"y":0.12},{"s":"B","x":2889,"y":0.02},{"s":"B","x":2894,"y":0.005},{"s":"B","x":2899,"y":0.03},{"s":"B","x":2904,"y":0.01},{"s":"B","x":2909,"y":0.11},{"s":"B","x":2914,"y":0.12},{"s":"B","x":2919,"y":0.28},{"s":"B","x":2924,"y":0.45},{"s":"B","x":2929,"y":0.48},{"s":"B","x":2934,"y":0.59},{"s":"B","x":2939,"y":0.50},{"s":"B","x":2944,"y":0.40},{"s":"B","x":2949,"y":0.18},{"s":"B","x":2954,"y":0.16},{"s":"B","x":2959,"y":0.135},{"s":"B","x":2964,"y":0.07},{"s":"B","x":2969,"y":0.04},{"s":"B","x":2974,"y":0.03},{"s":"B","x":2979,"y":0.015},{"s":"B","x":2984,"y":0.01},{"s":"B","x":2989,"y":0.005},{"s":"B","x":2994,"y":0.012},{"s":"B","x":2999,"y":0.0},{"s":"B","x":3004,"y":0.005},{"s":"B","x":3009,"y":0.01},{"s":"B","x":3014,"y":0.0},{"s":"B","x":3019,"y":0.008},{"s":"B","x":3024,"y":0.003},{"s":"B","x":3029,"y":0.025},{"s":"B","x":3044,"y":0.01},{"s":"B","x":3049,"y":0.015},{"s":"B","x":3054,"y":0.03},{"s":"B","x":3059,"y":0.04},{"s":"B","x":3064,"y":0.08},{"s":"B","x":3069,"y":0.04},{"s":"B","x":3074,"y":0.03},{"s":"B","x":3079,"y":0.025},{"s":"B","x":3084,"y":0.015},{"s":"B","x":3089,"y":0.01},{"s":"B","x":3094,"y":0.005},{"s":"B","x":3099,"y":0.008},
{"s":"B","x":2851.5,"y":0.07},{"s":"B","x":2856.5,"y":0.095},{"s":"B","x":2861.5,"y":0.14},{"s":"B","x":2866.5,"y":0.15},{"s":"B","x":2871.5,"y":0.17},{"s":"B","x":2876.5,"y":0.20},{"s":"B","x":2881.5,"y":0.15},{"s":"B","x":2886.5,"y":0.07},{"s":"B","x":2891.5,"y":0.015},{"s":"B","x":2896.5,"y":0.01},{"s":"B","x":2901.5,"y":0.04},{"s":"B","x":2906.5,"y":0.09},{"s":"B","x":2911.5,"y":0.17},{"s":"B","x":2916.5,"y":0.23},{"s":"B","x":2921.5,"y":0.31},{"s":"B","x":2926.5,"y":0.41},{"s":"B","x":2931.5,"y":0.53},{"s":"B","x":2936.5,"y":0.55},{"s":"B","x":2941.5,"y":0.49},{"s":"B","x":2946.5,"y":0.33},{"s":"B","x":2951.5,"y":0.20},{"s":"B","x":2956.5,"y":0.17},{"s":"B","x":2961.5,"y":0.10},{"s":"B","x":2966.5,"y":0.055},{"s":"B","x":3051.5,"y":0.01},{"s":"B","x":3056.5,"y":0.03},{"s":"B","x":3061.5,"y":0.06},{"s":"B","x":3066.5,"y":0.085},{"s":"B","x":3071.5,"y":0.05},{"s":"B","x":3076.5,"y":0.035},{"s":"B","x":3081.5,"y":0.02}
]
},
"layer": [
  {"data": {"name": "vlines"}, "mark": {"type": "rule", "color": "#808080", "strokeWidth": 2.5, "strokeDash": [7, 6]},
   "encoding": {
     "x": {"field": "x", "type": "quantitative", "scale": {"domain": [2800, 3100], "nice": false, "zero": false}, "axis": null},
     "y": {"field": "y", "type": "quantitative", "scale": {"domain": [0, 1.2], "nice": false, "zero": false}, "axis": null},
     "y2": {"field": "y2"}}},
  {"data": {"name": "mainframe"}, "mark": {"type": "rule", "color": "#808080", "strokeWidth": 2.5, "strokeDash": [4000, 1], "clip": false},
   "encoding": {
     "x": {"field": "x", "type": "quantitative", "scale": {"domain": [2800, 3100], "nice": false, "zero": false}, "axis": null},
     "x2": {"field": "x2"},
     "y": {"field": "y", "type": "quantitative", "scale": {"domain": [0, 1.2], "nice": false, "zero": false}, "axis": null},
     "y2": {"field": "y2"}}},
  {"data": {"name": "xt"}, "mark": {"type": "rule", "color": "#808080", "strokeWidth": 2.5, "strokeDash": [4000, 1], "clip": false},
   "encoding": {
     "x": {"field": "v", "type": "quantitative", "scale": {"domain": [2800, 3100], "nice": false, "zero": false}, "axis": null},
     "y": {"datum": 0, "type": "quantitative", "scale": {"domain": [0, 1.2], "nice": false, "zero": false}, "axis": null},
     "y2": {"datum": -0.0176}}},
  {"data": {"name": "yt"}, "mark": {"type": "rule", "color": "#808080", "strokeWidth": 2.5, "strokeDash": [4000, 1], "clip": false},
   "encoding": {
     "y": {"field": "v", "type": "quantitative", "scale": {"domain": [0, 1.2], "nice": false, "zero": false}, "axis": null},
     "x": {"datum": 2800, "type": "quantitative", "scale": {"domain": [2800, 3100], "nice": false, "zero": false}, "axis": null},
     "x2": {"datum": 2796.9}}},
  {"data": {"name": "pts"}, "mark": {"type": "point", "shape": "circle", "filled": false, "size": 80, "strokeWidth": 2.6, "opacity": 1},
   "encoding": {
     "x": {"field": "x", "type": "quantitative", "scale": {"domain": [2800, 3100], "nice": false, "zero": false},
       "axis": {"title": "Wavenumber /cm⁻¹", "values": [2800,2810,2820,2830,2840,2850,2860,2870,2880,2890,2900,2910,2920,2930,2940,2950,2960,2970,2980,2990,3000,3010,3020,3030,3040,3050,3060,3070,3080,3090,3100],
         "labelExpr": "datum.value % 50 == 0 ? format(datum.value, 'd') : ''", "tickSize": 8, "labelPadding": 43, "labelBaseline": "alphabetic", "labelFontSize": 29, "titleFontSize": 31.5, "titleX": 450, "titleY": 87, "titleBaseline": "alphabetic", "titleAlign": "center"}},
     "y": {"field": "y", "type": "quantitative", "scale": {"domain": [0, 1.2], "nice": false, "zero": false},
       "axis": {"title": "Relative intensity /arbitrary units", "values": [0,0.1,0.2,0.3,0.4,0.5,0.6,0.7,0.8,0.9,1.0,1.1,1.2],
         "labelExpr": "round(datum.value*10) % 2 == 0 ? format(datum.value, '.1f') : ''", "tickSize": 9, "labelPadding": 22, "labelFontSize": 29, "titleFontSize": 28.5, "titleX": -81, "titleY": 273, "titleBaseline": "alphabetic", "titleAlign": "center", "titleAngle": 270}},
     "color": {"field": "s", "type": "nominal", "scale": {"domain": ["T","P","R","G","B"], "range": ["#2A8497","#5D4886","#8B2D2C","#6A8A2C","#29497E"]}, "legend": null}}},
  {"data": {"name": "fits"}, "mark": {"type": "line", "strokeWidth": 2.6, "interpolate": "monotone"},
   "encoding": {
     "x": {"field": "x", "type": "quantitative", "scale": {"domain": [2800, 3100], "nice": false, "zero": false}, "axis": null},
     "y": {"field": "y", "type": "quantitative", "scale": {"domain": [0, 1.2], "nice": false, "zero": false}, "axis": null},
     "color": {"field": "s", "type": "nominal", "scale": {"domain": ["T","P","R","G","B"], "range": ["#2FA3B9","#8766B0","#B73A38","#8AB43F","#3B66AB"]}, "legend": null}}},
  {"data": {"name": "ivline"}, "mark": {"type": "rule", "color": "#808080", "strokeWidth": 2.5, "strokeDash": [8, 5]},
   "encoding": {
     "x": {"field": "x", "type": "quantitative", "scale": {"domain": [3020, 3100], "range": [515, 890], "nice": false, "zero": false}, "axis": null},
     "y": {"field": "y", "type": "quantitative", "scale": {"domain": [0, 0.18], "range": [206, -7.4], "nice": false, "zero": false}, "axis": null},
     "y2": {"field": "y2"}}},
  {"data": {"name": "insetframe"}, "mark": {"type": "rule", "color": "#808080", "strokeWidth": 2.5, "strokeDash": [4000, 1], "clip": false},
   "encoding": {
     "x": {"field": "x", "type": "quantitative", "scale": {"domain": [3020, 3100], "range": [515, 890], "nice": false, "zero": false}, "axis": null},
     "x2": {"field": "x2"},
     "y": {"field": "y", "type": "quantitative", "scale": {"domain": [0, 0.18], "range": [206, -7.4], "nice": false, "zero": false}, "axis": null},
     "y2": {"field": "y2"}}},
  {"data": {"name": "ixt"}, "mark": {"type": "rule", "color": "#808080", "strokeWidth": 2.5, "strokeDash": [4000, 1], "clip": false},
   "encoding": {
     "x": {"field": "v", "type": "quantitative", "scale": {"domain": [3020, 3100], "range": [515, 890], "nice": false, "zero": false}, "axis": null},
     "y": {"datum": 0, "type": "quantitative", "scale": {"domain": [0, 0.18], "range": [206, -7.4], "nice": false, "zero": false}, "axis": null},
     "y2": {"datum": -0.005}}},
  {"data": {"name": "iyt"}, "mark": {"type": "rule", "color": "#808080", "strokeWidth": 2.5, "strokeDash": [4000, 1], "clip": false},
   "encoding": {
     "y": {"field": "v", "type": "quantitative", "scale": {"domain": [0, 0.18], "range": [206, -7.4], "nice": false, "zero": false}, "axis": null},
     "x": {"datum": 3020, "type": "quantitative", "scale": {"domain": [3020, 3100], "range": [515, 890], "nice": false, "zero": false}, "axis": null},
     "x2": {"datum": 3018.7}}},
  {"data": {"name": "fits"}, "transform": [{"filter": "datum.x >= 3020"}], "mark": {"type": "line", "strokeWidth": 2.8, "interpolate": "monotone"},
   "encoding": {
     "x": {"field": "x", "type": "quantitative", "scale": {"domain": [3020, 3100], "range": [515, 890], "nice": false, "zero": false},
       "axis": {"orient": "bottom", "offset": -340, "title": "Wavenumber /cm⁻¹", "values": [3020,3025,3030,3035,3040,3045,3050,3055,3060,3065,3070,3075,3080,3085,3090,3095,3100],
         "labelExpr": "datum.value % 20 == 0 ? format(datum.value, 'd') : ''", "tickSize": 6, "labelPadding": 29, "labelBaseline": "alphabetic", "labelFontSize": 19, "titleFontSize": 20.5, "titleX": 702.5, "titleY": 61, "titleBaseline": "alphabetic", "titleAlign": "center"}},
     "y": {"field": "y", "type": "quantitative", "scale": {"domain": [0, 0.18], "range": [206, -7.4], "nice": false, "zero": false},
       "axis": {"orient": "left", "offset": -515, "title": null, "values": [0,0.02,0.04,0.06,0.08,0.1,0.12,0.14,0.16,0.18],
         "labelExpr": "round(datum.value*100) % 6 == 0 ? format(datum.value, '.2f') : ''", "tickSize": 6, "labelPadding": 14, "labelFontSize": 19}},
     "color": {"field": "s", "type": "nominal", "scale": {"domain": ["T","P","R","G","B"], "range": ["#2FA3B9","#8766B0","#B73A38","#8AB43F","#3B66AB"]}, "legend": null}}}
],
"resolve": {"scale": {"x": "independent", "y": "independent", "color": "independent"}}
}
